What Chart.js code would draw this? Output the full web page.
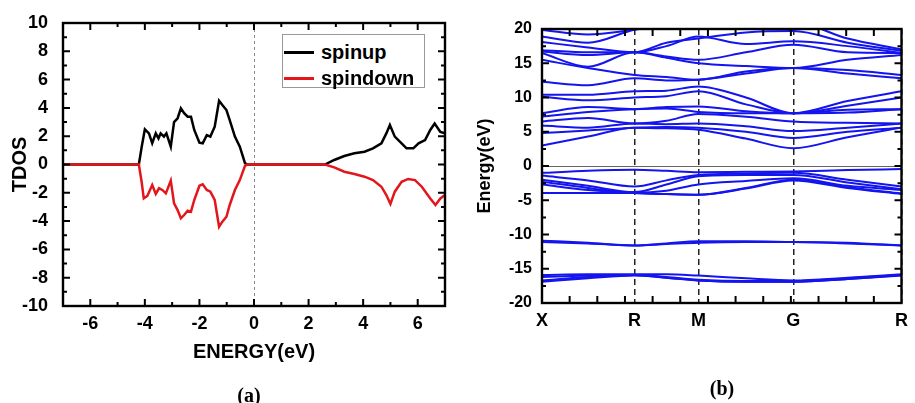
<!DOCTYPE html>
<html>
<head>
<meta charset="utf-8">
<script src="https://cdn.jsdelivr.net/npm/chart.js@4.4.1/dist/chart.umd.min.js"></script>
<style>
  html, body { margin: 0; padding: 0; background: #fff; }
  #wrap { position: relative; width: 915px; height: 403px; overflow: hidden; }
  .panel { position: absolute; top: 0; height: 403px; }
  #panelA { left: 0; width: 460px; }
  #panelB { left: 460px; width: 455px; }
  .legend { position: absolute; left: 282px; top: 34px; width: 141px; height: 52px; border: 1px solid #999; background: #fff; }
  .legend .row { position: absolute; left: 0; width: 141px; height: 24px; }
  .legend .swatch { position: absolute; left: 1px; top: 10px; width: 30px; height: 3px; }
  .legend .txt { position: absolute; left: 38px; top: 0; line-height: 24px; font: bold 20px "Liberation Sans", Arial, sans-serif; color: #000; }
  .caption { position: absolute; transform: translate(-50%, -50%); font: bold 20px "Liberation Serif", "Times New Roman", serif; color: #000; }
</style>
</head>
<body>
<div id="wrap">
  <div class="panel" id="panelA"><canvas id="chartA" width="460" height="403"></canvas></div>
  <div class="panel" id="panelB"><canvas id="chartB" width="455" height="403"></canvas></div>
  <div class="legend">
    <div class="row" style="top:6px"><div class="swatch" style="background:#000"></div><span class="txt">spinup</span></div>
    <div class="row" style="top:32px"><div class="swatch" style="background:#e3161c"></div><span class="txt">spindown</span></div>
  </div>
  <div class="caption" style="left:249px; top:395px">(a)</div>
  <div class="caption" style="left:722px; top:388px">(b)</div>
</div>
<script>
// ---- panel (a): total density of states ----
const upE = [-7, -4.22, -4.12, -4.0, -3.85, -3.73, -3.6, -3.5, -3.42, -3.3, -3.21, -3.05, -2.93, -2.8, -2.68, -2.56,
  -2.43, -2.31, -2.19, -2.0, -1.88, -1.73, -1.6, -1.44, -1.28, -1.16, -1.01, -0.89, -0.7, -0.52, -0.33, -0.25,
  2.6, 2.94, 3.31, 3.68, 4.05, 4.36, 4.67, 4.85, 4.98, 5.16, 5.41, 5.59, 5.84, 6.03, 6.27, 6.46, 6.62, 6.83, 7.0];
const upDos = [0, 0, 1.2, 2.49, 2.2, 1.5, 2.2, 1.85, 2.2, 1.97, 2.2, 1.26, 3.0, 3.27, 3.97, 3.62,
  3.38, 3.38, 2.44, 1.54, 1.5, 2.08, 1.97, 2.67, 4.5, 4.2, 3.85, 3.14, 1.97, 1.26, 0.1, 0,
  0, 0.32, 0.6, 0.79, 0.9, 1.14, 1.5, 2.2, 2.79, 1.97, 1.5, 1.14, 1.14, 1.5, 1.73, 2.44, 2.9, 2.3, 2.2];
const downE = [-7, -4.22, -4.12, -4.04, -3.91, -3.73, -3.6, -3.48, -3.36, -3.23, -3.05, -2.93, -2.8, -2.68, -2.56, -2.43,
  -2.31, -2.19, -2.0, -1.88, -1.73, -1.6, -1.44, -1.28, -1.16, -1.01, -0.89, -0.7, -0.52, -0.33, -0.25,
  2.6, 2.94, 3.31, 3.68, 4.05, 4.36, 4.67, 4.85, 5.0, 5.16, 5.41, 5.65, 5.9, 6.15, 6.46, 6.65, 6.83, 7.0];
const downDos = [0, 0, -1.2, -2.39, -2.22, -1.45, -2.08, -1.68, -1.8, -2.04, -1.14, -2.74, -3.22, -3.8, -3.57, -3.26,
  -3.33, -2.51, -1.5, -1.4, -1.8, -1.92, -2.51, -4.4, -4.04, -3.69, -2.86, -1.8, -1.1, -0.1, 0,
  0, -0.2, -0.51, -0.67, -0.86, -1.1, -1.57, -2.16, -2.79, -1.92, -1.22, -1.02, -1.1, -1.57, -2.4, -2.86, -2.4, -2.16];
const energyTicks = [-6, -4, -2, 0, 2, 4, 6];
const dosTicks = [-10, -8, -6, -4, -2, 0, 2, 4, 6, 8, 10];

// ---- panel (b): band structure along X-R-M-G-R ----
const kPos = [0, 0.257, 0.435, 0.699, 1];
const kLabels = ['X', 'R', 'M', 'G', 'R'];
const kSample = [0, 0.128, 0.257, 0.346, 0.435, 0.567, 0.699, 0.85, 1];
const bandTicks = [-20, -15, -10, -5, 0, 5, 10, 15, 20];
const coreBands = [
  [-15.9, -15.8, -15.8, -15.8, -16.0, -16.4, -16.7, -16.3, -15.8],
  [-16.2, -16.0, -15.9, -16.2, -16.6, -16.8, -16.8, -16.4, -15.9],
  [-16.7, -16.2, -15.9, -16.3, -16.7, -16.9, -16.9, -16.5, -15.9],
  [-16.9, -16.4, -16.0, -16.3, -16.7, -16.9, -16.9, -16.5, -16.0],
  [-10.9, -11.2, -11.6, -11.3, -11.0, -11.0, -11.1, -11.2, -11.6],
  [-11.1, -11.3, -11.6, -11.4, -11.2, -11.1, -11.1, -11.3, -11.6]
];
const valenceBands = [
  [-1.0, -0.7, -0.55, -0.7, -0.9, -0.85, -0.8, -0.6, -0.45],
  [-1.4, -2.1, -3.0, -2.1, -1.3, -1.1, -1.0, -2.0, -3.0],
  [-2.0, -2.9, -3.8, -2.7, -1.5, -1.3, -1.3, -2.4, -3.4],
  [-2.3, -3.2, -3.9, -3.6, -2.7, -2.2, -1.8, -2.9, -3.5],
  [-2.7, -3.5, -3.95, -4.1, -4.2, -3.2, -2.0, -3.1, -4.0],
  [-3.95, -3.95, -3.95, -4.1, -4.2, -3.3, -2.1, -3.2, -4.1]
];
const conductionBands = [
  [3.0, 4.3, 5.6, 5.5, 5.3, 4.0, 2.6, 4.2, 5.6],
  [4.8, 5.2, 5.6, 5.7, 5.6, 5.0, 4.1, 5.0, 5.6],
  [5.9, 5.6, 6.2, 6.1, 6.2, 5.8, 5.1, 5.6, 6.2],
  [6.5, 7.0, 6.2, 6.6, 7.6, 7.2, 6.5, 6.3, 6.2],
  [7.2, 7.9, 8.3, 8.4, 7.9, 7.7, 7.7, 7.8, 8.3],
  [7.7, 8.6, 8.3, 8.6, 8.7, 8.0, 7.7, 8.2, 8.3],
  [10.1, 9.6, 10.0, 10.2, 10.9, 9.0, 7.7, 8.8, 10.0],
  [10.4, 10.4, 10.9, 11.0, 11.6, 10.0, 7.7, 9.5, 10.9],
  [12.3, 11.8, 12.8, 12.5, 12.6, 13.5, 14.3, 13.5, 12.8],
  [15.5, 14.3, 13.3, 13.0, 12.6, 13.8, 14.3, 14.0, 13.3],
  [16.5, 14.5, 16.6, 15.8, 15.0, 14.6, 14.3, 15.5, 16.2],
  [16.7, 16.2, 16.6, 16.0, 15.5, 16.6, 17.7, 16.6, 16.5],
  [16.9, 16.6, 16.6, 17.5, 18.9, 17.8, 18.2, 17.5, 16.5],
  [18.1, 17.3, 16.6, 18.0, 18.6, 19.5, 19.7, 18.0, 16.8],
  [18.9, 18.0, 19.9, 20.5, 20.1, 20.5, 21.0, 18.6, 17.0],
  [19.85, 19.2, 19.9, 20.5, 21.0, 21.0, 21.0, 20.5, 20.0]
];

Chart.defaults.font.family = '"Liberation Sans", Arial, sans-serif';
Chart.defaults.font.weight = 'bold';
Chart.defaults.color = '#000';

const pts = (xs, ys) => xs.map((x, i) => ({ x: x, y: ys[i] }));

function tickMarks(min, max, step, majorStep) {
  const out = [];
  for (let v = min; v <= max + 1e-9; v += step) {
    out.push({ v: v, major: Math.abs(v / majorStep - Math.round(v / majorStep)) < 1e-6 });
  }
  return out;
}

// box frame with inward tick marks, like the original plotting program
function frameWithTicks(xMarks, yMarks) {
  return {
    id: 'frameTicks',
    afterDatasetsDraw(chart) {
      const { ctx, chartArea: a, scales } = chart;
      ctx.save();
      ctx.strokeStyle = '#000';
      ctx.lineWidth = 2;
      ctx.beginPath();
      xMarks.forEach(m => {
        const px = scales.x.getPixelForValue(m.v);
        const len = m.major ? 7 : 4;
        ctx.moveTo(px, a.bottom); ctx.lineTo(px, a.bottom - len);
        ctx.moveTo(px, a.top); ctx.lineTo(px, a.top + len);
      });
      yMarks.forEach(m => {
        const py = scales.y.getPixelForValue(m.v);
        const len = m.major ? 7 : 4;
        ctx.moveTo(a.left, py); ctx.lineTo(a.left + len, py);
        ctx.moveTo(a.right, py); ctx.lineTo(a.right - len, py);
      });
      ctx.stroke();
      ctx.lineWidth = 2.4;
      ctx.strokeRect(a.left, a.top, a.right - a.left, a.bottom - a.top);
      ctx.restore();
    }
  };
}

new Chart(document.getElementById('chartA'), {
  type: 'scatter',
  data: {
    datasets: [
      { label: 'spinup', data: pts(upE, upDos), borderColor: '#000', borderWidth: 2.5, order: 1 },
      { label: 'spindown', data: pts(downE, downDos), borderColor: '#e3161c', borderWidth: 2.5, order: 0 }
    ]
  },
  options: {
    responsive: false,
    animation: false,
    events: [],
    showLine: true,
    elements: { point: { radius: 0 }, line: { tension: 0 } },
    layout: { padding: { left: 0, top: 23, right: 15, bottom: 39 } },
    plugins: { legend: { display: false }, tooltip: { enabled: false } },
    scales: {
      x: {
        type: 'linear', min: -7, max: 7,
        afterBuildTicks: s => { s.ticks = energyTicks.map(v => ({ value: v })); },
        afterFit: s => { s.height = 58; },
        ticks: { padding: 7, font: { size: 18, weight: 'bold' }, maxRotation: 0, autoSkip: false },
        grid: { display: true, drawTicks: false, lineWidth: 1,
          color: c => (c.tick && c.tick.value === 0 ? '#888' : 'rgba(0,0,0,0)') },
        border: { display: false, dash: [3, 3] },
        title: { display: true, text: 'ENERGY(eV)', font: { size: 20, weight: 'bold' }, padding: { top: 0, bottom: 0 } }
      },
      y: {
        type: 'linear', min: -10, max: 10,
        afterBuildTicks: s => { s.ticks = dosTicks.map(v => ({ value: v })); },
        afterFit: s => { s.width = 63; },
        ticks: { padding: 7, font: { size: 18, weight: 'bold' } },
        grid: { display: false },
        border: { display: false },
        title: { display: true, text: 'TDOS', font: { size: 20, weight: 'bold' }, padding: { top: 8, bottom: 0 } }
      }
    }
  },
  plugins: [frameWithTicks(tickMarks(-7, 7, 1, 2), tickMarks(-10, 10, 1, 2))]
});

const bandSets = coreBands.concat(valenceBands, conductionBands).map(b => ({
  data: pts(kSample, b),
  borderColor: '#1414ee',
  borderWidth: 2,
  cubicInterpolationMode: 'monotone'
}));

new Chart(document.getElementById('chartB'), {
  type: 'scatter',
  data: { datasets: bandSets },
  options: {
    responsive: false,
    animation: false,
    events: [],
    showLine: true,
    elements: { point: { radius: 0 } },
    layout: { padding: { left: 0, top: 29, right: 7, bottom: 40 } },
    plugins: { legend: { display: false }, tooltip: { enabled: false } },
    scales: {
      x: {
        type: 'linear', min: 0, max: 1,
        afterBuildTicks: s => { s.ticks = kPos.map(v => ({ value: v })); },
        afterFit: s => { s.height = 60; },
        ticks: { padding: 7, font: { size: 18, weight: 'bold' }, maxRotation: 0, autoSkip: false,
          callback: (v, i) => kLabels[i] },
        grid: { display: true, drawTicks: false, lineWidth: 1.5, color: '#222' },
        border: { display: false, dash: [6, 4] }
      },
      y: {
        type: 'linear', min: -20, max: 20,
        afterBuildTicks: s => { s.ticks = bandTicks.map(v => ({ value: v })); },
        afterFit: s => { s.width = 82; },
        ticks: { padding: 10, font: { size: 16, weight: 'bold' } },
        grid: { display: true, drawTicks: false, lineWidth: 1,
          color: c => (c.tick && c.tick.value === 0 ? '#666' : 'rgba(0,0,0,0)') },
        border: { display: false },
        title: { display: true, text: 'Energy(eV)', font: { size: 18, weight: 'bold' }, padding: { top: 14, bottom: 0 } }
      }
    }
  },
  plugins: [frameWithTicks(tickMarks(1 / 13, 12 / 13, 1 / 13, 1 / 13), tickMarks(-20, 20, 2.5, 5))]
});
</script>
</body>
</html>
